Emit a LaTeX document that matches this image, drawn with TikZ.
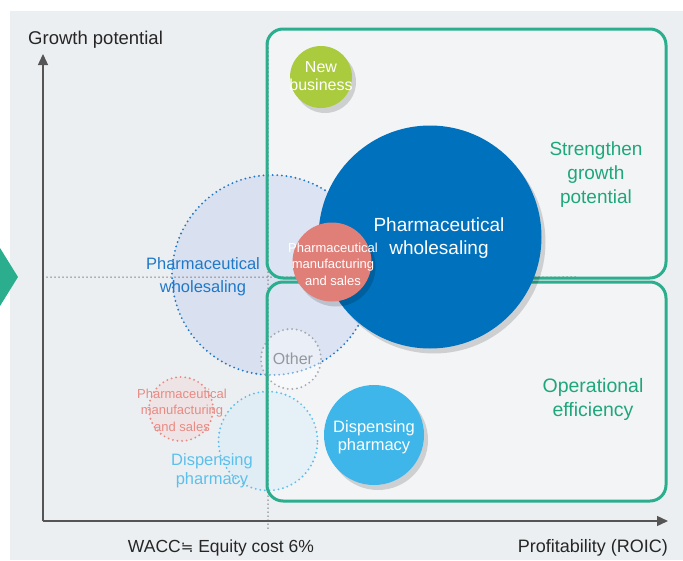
\documentclass[tikz,border=0pt]{standalone}
\usepackage{fontspec}
\setmainfont{Liberation Sans}
\newfontfamily\dejavu{DejaVu Sans}
\usetikzlibrary{arrows.meta,shadows}
\definecolor{bgc}{HTML}{ECEFF2}
\definecolor{rectin}{HTML}{F3F4F6}
\definecolor{teal}{HTML}{2BAE8E}
\definecolor{tealtext}{HTML}{1FA77C}
\definecolor{bigblue}{HTML}{0071BC}
\definecolor{newgreen}{HTML}{A9CB3D}
\definecolor{pinkc}{HTML}{E07E78}
\definecolor{dispc}{HTML}{3EB6E9}
\definecolor{axisc}{HTML}{555555}
\definecolor{dotblue}{HTML}{1F78C8}
\definecolor{dotpink}{HTML}{E88A84}
\definecolor{dotlb}{HTML}{5BC0EC}
\definecolor{dotgray}{HTML}{A5A9B0}
\definecolor{gridc}{HTML}{6A6A6A}
\definecolor{ghostfill}{HTML}{CDD8F0}
\tikzset{
  dotline/.style={line width=2.1pt, line cap=round, dash pattern=on 0pt off 4.6pt},
  frame/.style={draw=teal, line width=3pt, rounded corners=16pt, fill=rectin},
  bubble/.style={circle, inner sep=0pt, drop shadow={shadow xshift=4pt, shadow yshift=-5pt, opacity=0.15, fill=black}},
  ghost/.style={circle, inner sep=0pt, dotline},
  lbl/.style={align=center, inner sep=0pt},
  axis/.style={draw=axisc, line width=1.4pt, -{Triangle[length=11pt,width=10pt]}},
}
\begin{document}
\begin{tikzpicture}[x=1pt,y=-1pt]
\useasboundingbox (0,0) rectangle (683,560);
\fill[white] (0,0) rectangle (683,560);
\fill[bgc] (10,11) rectangle (683,560);
\fill[teal] (0,248) -- (18,277) -- (0,306) -- cycle;

% frames (fill only first)
\path[frame, draw=none] (267,29) rectangle (666,278);
\path[frame, draw=none] (267,282) rectangle (666,501);

% ghost bubbles
\node[ghost, minimum size=200pt, draw=dotblue, fill=ghostfill, fill opacity=0.6] (gw) at (272,275) {};
\node[ghost, minimum size=60pt, draw=dotgray, fill=white, fill opacity=0.4] (go) at (291,359) {};
\node[ghost, minimum size=64pt, draw=dotpink, fill=dotpink!40, fill opacity=0.35] (gp) at (181,409) {};
\node[ghost, minimum size=99pt, draw=dotlb, fill=dotlb!30, fill opacity=0.35] (gd) at (268,441) {};

% grid lines
\coordinate (hl0) at (43,277);
\coordinate (hl1) at (575,277);
\coordinate (vl0) at (268,40);
\coordinate (vl1) at (268,530);
\draw[dotline, draw=gridc, line width=1.5pt, dash pattern=on 0pt off 4pt] (hl0) -- (hl1);
\draw[dotline, draw=gridc, line width=1.5pt, dash pattern=on 0pt off 4pt] (vl0) -- (vl1);

% axes
\coordinate (org) at (43,521);
\coordinate (ytip) at (43,54);
\coordinate (xtip) at (668,521);
\draw[axis] (org) -- (ytip);
\draw[axis] (org) -- (xtip);

% frame borders
\draw[frame, fill=none] (267,29) rectangle (666,278);
\draw[frame, fill=none] (267,282) rectangle (666,501);

% bubbles
\node[bubble, minimum size=62pt, fill=newgreen] (nb) at (321,77) {};
\node[bubble, minimum size=223pt, fill=bigblue] (pw) at (430,237) {};
\node[bubble, minimum size=79pt, fill=pinkc] (pm) at (332,262) {};
\node[bubble, minimum size=100pt, fill=dispc] (dp) at (374,435) {};

% labels
\node[lbl, anchor=west, text=black!85, font=\fontsize{18.5}{22}\selectfont] (ty) at (28,40) {Growth potential};
\node[lbl, text=black!85, font=\fontsize{17.5}{22}\selectfont] (tw) at (221,548) {WACC{\dejavu\fontsize{15}{18}\selectfont ≒} Equity cost 6\%};
\node[lbl, anchor=east, text=black!85, font=\fontsize{18}{22}\selectfont] (tx) at (668,548) {Profitability (ROIC)};
\node[lbl, text=tealtext, font=\fontsize{19}{24}\selectfont] (ts) at (596,175) {Strengthen\\growth\\potential};
\node[lbl, text=tealtext, font=\fontsize{19.5}{24}\selectfont] (te) at (593,399) {Operational\\efficiency};
\node[lbl, text=white, font=\fontsize{19}{23}\selectfont] (tpw) at (439,238) {Pharmaceutical\\wholesaling};
\node[lbl, text=white, font=\fontsize{16}{18}\selectfont] (tnb) at (321,76) {New\\business};
\node[lbl, text=white, font=\fontsize{13}{16.5}\selectfont] (tpm) at (333,264) {Pharmaceutical\\manufacturing\\and sales};
\node[lbl, text=dotblue, font=\fontsize{16.5}{23}\selectfont] (tgw) at (203,277) {Pharmaceutical\\wholesaling};
\node[lbl, text=dotgray!90!black, font=\fontsize{16}{18}\selectfont] (tgo) at (293,359) {Other};
\node[lbl, text=dotpink, font=\fontsize{13}{16.5}\selectfont] (tgp) at (182,410) {Pharmaceutical\\manufacturing\\and sales};
\node[lbl, text=dotlb, font=\fontsize{16.5}{19}\selectfont] (tgd) at (212,471) {Dispensing\\pharmacy};
\node[lbl, text=white, font=\fontsize{16.5}{18}\selectfont] (tdp) at (374,437) {Dispensing\\pharmacy};
\end{tikzpicture}
\end{document}
